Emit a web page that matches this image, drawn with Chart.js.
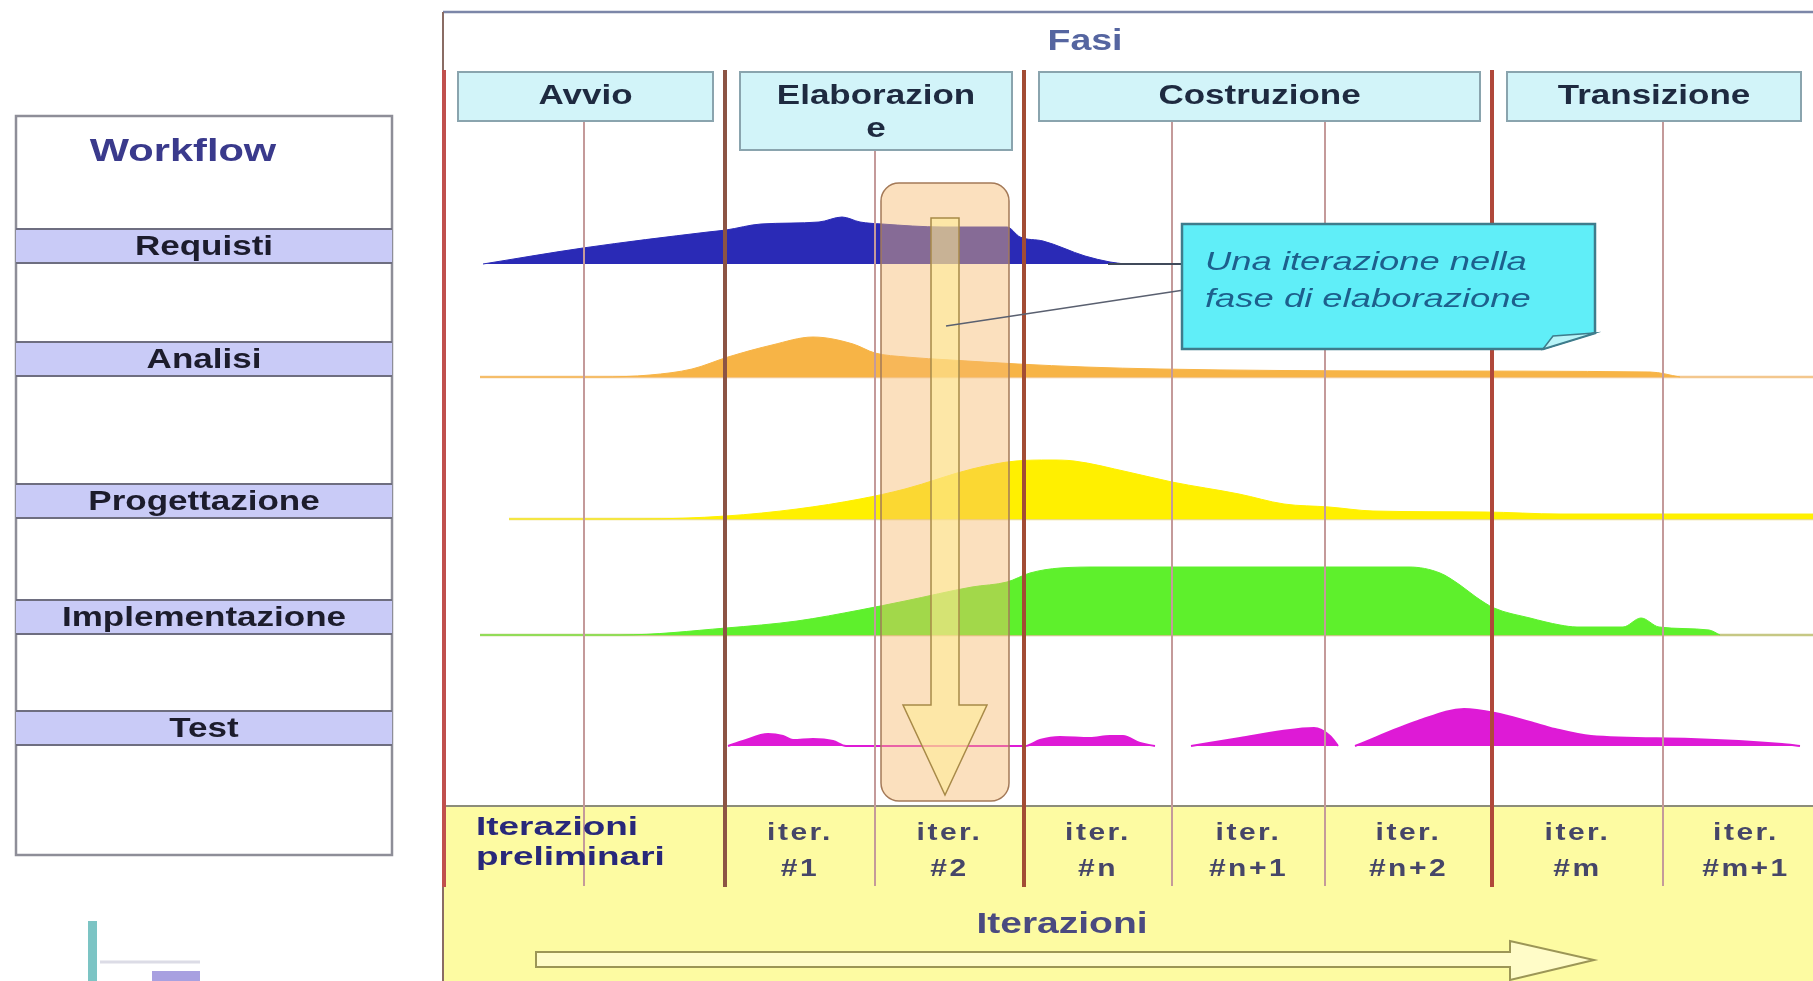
<!DOCTYPE html>
<html>
<head>
<meta charset="utf-8">
<script src="https://cdn.jsdelivr.net/npm/chart.js@4.4.1/dist/chart.umd.min.js"></script>
<style>
  html, body { margin: 0; padding: 0; background: #fff; overflow: hidden; }
  #wrap { position: relative; width: 1813px; height: 981px; }
</style>
</head>
<body>
<div id="wrap"><canvas id="rupChart"></canvas></div>
<script>
// x = project time (1 unit ~ 10px here), y = vertical position of each workflow row
const phaseNames = ['Avvio', 'Elaborazione', 'Costruzione', 'Transizione'];
const phaseBounds = [0, 28.2, 58.1, 104.9, 137];
const iterBounds = [0, 28.2, 43.2, 58.1, 72.9, 88.2, 104.9, 122.0, 138.6];
const extraIterLines = [14.1];
const iterLabels = [
    ['Iterazioni', 'preliminari'], ['iter.', '#1'], ['iter.', '#2'], ['iter.', '#n'],
    ['iter.', '#n+1'], ['iter.', '#n+2'], ['iter.', '#m'], ['iter.', '#m+1']
];
const workflows = ['Requisti', 'Analisi', 'Progettazione', 'Implementazione', 'Test'];
const rowBase = [71.7, 60.4, 46.2, 34.6, 23.5];
const rowLineStart = [null, 3.7, 6.6, 3.7, null];

// effort curves (height above the row baseline)
const reqX = [4.0, 14.0, 26.5, 28.3, 31.8, 37.6, 39.9, 41.7, 43.9, 50.0, 56.4, 57.7, 60.0, 64.2, 66.7, 68.2];
const reqH = [0, 1.6, 3.2, 3.4, 4.0, 4.2, 4.7, 4.2, 4.0, 3.7, 3.7, 2.7, 2.3, 0.8, 0.2, 0];
const anaX = [3.7, 15.7, 20.7, 24.9, 28.5, 32.9, 37.0, 41.0, 43.2, 46.3, 50.8, 57.5, 64.2, 71.7, 95.7, 120.7, 123.7];
const anaH = [0, 0, 0.2, 0.8, 2.0, 3.2, 4.0, 3.3, 2.4, 2.0, 1.7, 1.3, 1.0, 0.8, 0.6, 0.5, 0];
const proX = [6.6, 19.7, 28.3, 35.4, 41.7, 46.2, 52.9, 57.3, 60.7, 63.1, 68.5, 72.9, 79.6, 84.1, 88.6, 93.0, 104.2, 111.7, 137];
const proH = [0, 0, 0.3, 1.0, 2.0, 3.0, 5.0, 5.8, 5.9, 5.8, 4.7, 3.7, 2.5, 1.5, 1.2, 0.8, 0.7, 0.5, 0.5];
const impX = [3.7, 17.7, 28.3, 35.4, 41.7, 46.2, 52.9, 56.4, 58.7, 61.7, 65.7, 96.6, 99.7, 101.7, 103.3, 105.1, 108.7, 111.7,
              113.4, 118.0, 119.8, 121.6, 126.6, 127.7];
const impH = [0, 0, 0.7, 1.4, 2.5, 3.4, 4.8, 5.3, 6.2, 6.7, 6.8, 6.8, 6.2, 5.0, 3.8, 2.7, 1.7, 1.0,
              0.8, 0.8, 1.7, 0.8, 0.5, 0];
const tstX = [28.5, 30.0, 32.5, 34.0, 35.0, 37.0, 39.0, 40.3, 46.0, 56.0, 58.2, 59.7, 61.7, 64.7, 66.7, 68.0, 69.7, 71.2, 73.0,
              74.8, 79.7, 83.9, 87.1, 88.7, 89.5, 90.3, 91.2, 97.5, 102.1, 105.2, 108.7, 111.2, 114.8, 124.8, 133.9, 135.7];
const tstH = [0, 0.5, 1.2, 1.0, 0.6, 0.7, 0.5, 0, 0, 0, 0, 0.6, 0.9, 0.8, 1.0, 1.0, 0.3, 0, null,
              0, 0.8, 1.5, 1.8, 1.0, 0, null, 0, 2.5, 3.7, 3.3, 2.4, 1.7, 1.0, 0.7, 0.2, 0];

const humpX = [reqX, anaX, proX, impX, tstX];
const humpH = [reqH, anaH, proH, impH, tstH];
const humpColors = ['#2a2ab6', '#f7b446', '#fff000', '#5ef02c', '#de1ad6'];
const baseLineColors = [null, '#f3c78e', '#e9dc86', '#c6c884', null];

const FONT = '"Liberation Sans", Arial, sans-serif';

function drawText(ctx, txt, x, y, font, color, sx, align, spacing) {
    ctx.save();
    ctx.font = font;
    ctx.fillStyle = color;
    ctx.textBaseline = 'middle';
    ctx.textAlign = align || 'center';
    if (spacing) ctx.letterSpacing = spacing + 'px';
    ctx.translate(x, y);
    ctx.scale(sx, 1);
    ctx.fillText(txt, 0, 0);
    ctx.restore();
}

function seg(ctx, x1, y1, x2, y2, color, w) {
    ctx.beginPath();
    ctx.moveTo(x1, y1);
    ctx.lineTo(x2, y2);
    ctx.strokeStyle = color;
    ctx.lineWidth = w;
    ctx.stroke();
}

function wrapChars(ctx, text, maxW, sx) {
    if (ctx.measureText(text).width * sx <= maxW) return [text];
    let i = text.length;
    while (i > 1 && ctx.measureText(text.slice(0, i)).width * sx > maxW) i--;
    return [text.slice(0, i), text.slice(i)];
}

const rupDecor = {
    id: 'rupDecor',
    beforeDatasetsDraw(chart) {
        const { ctx, chartArea: a, scales: { y } } = chart;
        ctx.save();

        // left workflow panel
        ctx.strokeStyle = '#8e8e98';
        ctx.lineWidth = 2.5;
        ctx.strokeRect(16, 116, 376, 739);
        drawText(ctx, 'Workflow', 183, 152, 'bold 32px ' + FONT, '#3a3a8c', 1.3);
        workflows.forEach((w, i) => {
            const bottom = y.getPixelForValue(rowBase[i]) - 1;
            const top = bottom - 34;
            ctx.fillStyle = '#c9cbf7';
            ctx.fillRect(16, top, 376, 34);
            seg(ctx, 16, top, 392, top, '#6e6e80', 2);
            seg(ctx, 16, bottom, 392, bottom, '#6e6e80', 2);
            drawText(ctx, w, 204, (top + bottom) / 2 + 1, 'bold 28px ' + FONT, '#1c1c2c', 1.25);
        });

        // small logo bottom-left
        ctx.fillStyle = '#7cc4c4';
        ctx.fillRect(88, 921, 9, 60);
        seg(ctx, 100, 962, 200, 962, '#dcdce6', 3);
        ctx.fillStyle = '#a8a0e0';
        ctx.fillRect(152, 971, 48, 10);

        // iteration band
        ctx.fillStyle = '#fdfba2';
        ctx.fillRect(a.left, 806, a.right - a.left, a.bottom - 806);
        seg(ctx, a.left, 806, a.right, 806, '#8c8c7a', 2);

        // frame
        seg(ctx, a.left, 12, a.right, 12, '#7c86a8', 2.5);
        seg(ctx, a.left, 12, a.left, a.bottom, '#8a6c64', 2);
        drawText(ctx, 'Fasi', 1085, 42, 'bold 30px ' + FONT, '#5565a0', 1.25);
        ctx.restore();
    },
    afterDatasetsDraw(chart) {
        const { ctx, scales: { x } } = chart;
        ctx.save();

        // thin iteration lines
        const thin = extraIterLines.concat(iterBounds.filter(b => !phaseBounds.includes(b) && b < 137));
        thin.forEach(b => seg(ctx, x.getPixelForValue(b), 100, x.getPixelForValue(b), 886, '#c49a9a', 2));
        // phase lines
        const phaseColors = ['#c0504d', '#8c5444', '#a24c34', '#b0483a'];
        phaseBounds.slice(0, 4).forEach((b, i) => {
            const px = x.getPixelForValue(b) + (i === 0 ? 1 : 0);
            seg(ctx, px, 70, px, 887, phaseColors[i], 4);
        });

        // phase header boxes
        phaseNames.forEach((name, i) => {
            const l = x.getPixelForValue(phaseBounds[i] + 1.5);
            const r = x.getPixelForValue(Math.min(phaseBounds[i + 1], 137) - 1.2);
            ctx.font = 'bold 28px ' + FONT;
            const lines = wrapChars(ctx, name, r - l - 60, 1.25);
            const h = 49 + (lines.length - 1) * 29;
            ctx.fillStyle = '#d2f4f9';
            ctx.fillRect(l, 72, r - l, h);
            ctx.strokeStyle = '#8aa4ae';
            ctx.lineWidth = 2;
            ctx.strokeRect(l, 72, r - l, h);
            lines.forEach((t, k) => drawText(ctx, t, (l + r) / 2, 96 + k * 33, 'bold 28px ' + FONT, '#1e2a40', 1.25));
        });

        // highlighted iteration #2 of the elaboration phase
        const cl = x.getPixelForValue(iterBounds[2]) + 6;
        const cr = x.getPixelForValue(iterBounds[3]) - 15;
        ctx.beginPath();
        ctx.roundRect(cl, 183, cr - cl, 618, 18);
        ctx.fillStyle = 'rgba(247,186,110,0.45)';
        ctx.fill();
        ctx.strokeStyle = '#a47a58';
        ctx.lineWidth = 1.5;
        ctx.stroke();
        const cx = (cl + cr) / 2;
        ctx.beginPath();
        ctx.moveTo(cx - 14, 218);
        ctx.lineTo(cx + 14, 218);
        ctx.lineTo(cx + 14, 705);
        ctx.lineTo(cx + 42, 705);
        ctx.lineTo(cx, 795);
        ctx.lineTo(cx - 42, 705);
        ctx.lineTo(cx - 14, 705);
        ctx.closePath();
        ctx.fillStyle = 'rgba(255,236,150,0.55)';
        ctx.fill();
        ctx.strokeStyle = '#a88a48';
        ctx.stroke();

        // callout
        seg(ctx, 1108, 264, 1184, 264, '#404a5a', 2);
        seg(ctx, 1184, 290, 946, 326, '#5a6070', 1.5);
        ctx.beginPath();
        ctx.moveTo(1182, 224);
        ctx.lineTo(1595, 224);
        ctx.lineTo(1595, 333);
        ctx.lineTo(1543, 349);
        ctx.lineTo(1182, 349);
        ctx.closePath();
        ctx.fillStyle = '#60eef8';
        ctx.fill();
        ctx.strokeStyle = '#3e7c8c';
        ctx.lineWidth = 2.5;
        ctx.stroke();
        ctx.beginPath();
        ctx.moveTo(1543, 349);
        ctx.lineTo(1553, 336);
        ctx.lineTo(1595, 333);
        ctx.closePath();
        ctx.fillStyle = '#b8f4f8';
        ctx.fill();
        ctx.lineWidth = 1.5;
        ctx.stroke();
        drawText(ctx, 'Una iterazione nella', 1205, 263, 'italic 26px ' + FONT, '#1d5f8c', 1.4, 'left');
        drawText(ctx, 'fase di elaborazione', 1205, 300, 'italic 26px ' + FONT, '#1d5f8c', 1.4, 'left');

        // iteration labels
        iterLabels.forEach((lab, k) => {
            if (k === 0) {
                drawText(ctx, lab[0], 476, 828, 'bold 26px ' + FONT, '#28287a', 1.42, 'left');
                drawText(ctx, lab[1], 476, 858, 'bold 26px ' + FONT, '#28287a', 1.42, 'left');
            } else {
                const mx = x.getPixelForValue((iterBounds[k] + iterBounds[k + 1]) / 2);
                drawText(ctx, lab[0], mx, 833, 'bold 24px ' + FONT, '#464668', 1.25, 'center', 2);
                drawText(ctx, lab[1], mx, 869, 'bold 24px ' + FONT, '#464668', 1.25, 'center', 2);
            }
        });

        drawText(ctx, 'Iterazioni', 1062, 925, 'bold 30px ' + FONT, '#4a4a80', 1.3);
        ctx.beginPath();
        ctx.moveTo(536, 952);
        ctx.lineTo(1510, 952);
        ctx.lineTo(1510, 941);
        ctx.lineTo(1594, 960);
        ctx.lineTo(1510, 980);
        ctx.lineTo(1510, 967);
        ctx.lineTo(536, 967);
        ctx.closePath();
        ctx.fillStyle = '#fffcc8';
        ctx.fill();
        ctx.strokeStyle = '#9c9656';
        ctx.lineWidth = 2;
        ctx.stroke();

        ctx.restore();
    }
};

const datasets = [];
workflows.forEach((name, i) => {
    datasets.push({
        label: name,
        data: humpX[i].map((xv, k) => ({ x: xv, y: humpH[i][k] === null ? null : rowBase[i] + humpH[i][k] })),
        fill: { value: rowBase[i] },
        backgroundColor: humpColors[i],
        borderColor: humpColors[i],
        borderWidth: i === 4 ? 2 : 1,
        pointRadius: 0,
        cubicInterpolationMode: 'monotone',
        spanGaps: false
    });
});
workflows.forEach((name, i) => {
    if (rowLineStart[i] === null) return;
    datasets.push({
        label: name + ' base',
        data: [{ x: rowLineStart[i], y: rowBase[i] }, { x: 137, y: rowBase[i] }],
        fill: false,
        borderColor: baseLineColors[i],
        borderWidth: 2.5,
        pointRadius: 0
    });
});

new Chart(document.getElementById('rupChart'), {
    type: 'line',
    data: { datasets },
    options: {
        responsive: true,
        maintainAspectRatio: false,
        animation: false,
        layout: { padding: { left: 443, right: 0, top: 0, bottom: 0 } },
        scales: {
            x: { type: 'linear', min: 0, max: 137, display: false },
            y: { type: 'linear', min: 0, max: 98.1, display: false }
        },
        plugins: { legend: { display: false }, tooltip: { enabled: false } }
    },
    plugins: [rupDecor]
});
</script>
</body>
</html>
